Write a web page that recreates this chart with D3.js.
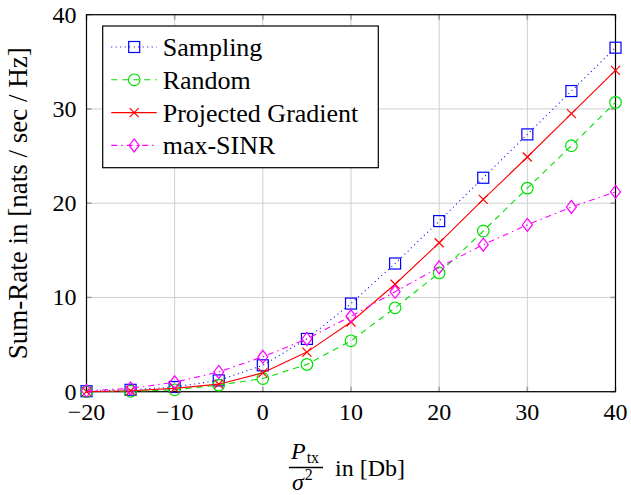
<!DOCTYPE html>
<html>
<head>
<meta charset="utf-8">
<script src="https://d3js.org/d3.v7.min.js"></script>
<style>
  body { margin: 0; background: #fff; }
  svg { display: block; }
  svg text { font-family: "Times New Roman", "Liberation Serif", Tinos, serif !important; }
</style>
</head>
<body>
<svg width="631" height="495"></svg>
<script>
const width = 631;
const height = 495;

// data
const snr = [-20, -15, -10, -5, 0, 5, 10, 15, 20, 25, 30, 35, 40];
const sampling = [0.05, 0.2, 0.5, 1.2, 2.8, 5.6, 9.35, 13.6, 18.1, 22.7, 27.3, 31.9, 36.5];
const random = [0.0, 0.05, 0.2, 0.7, 1.4, 2.9, 5.4, 8.9, 12.6, 17.05, 21.6, 26.1, 30.7];
const projGrad = [0.0, 0.1, 0.35, 0.8, 2.0, 4.2, 7.4, 11.4, 15.8, 20.4, 24.9, 29.5, 34.1];
const maxSinr = [0.1, 0.35, 1.0, 2.1, 3.7, 5.6, 8.0, 10.6, 13.2, 15.6, 17.7, 19.6, 21.2];
const xTicks = [-20, -10, 0, 10, 20, 30, 40];
const yTicks = [0, 10, 20, 30, 40];

const series = [
    { name: "Sampling", values: sampling, color: "#0000ff", dash: "1,3.5", marker: "square" },
    { name: "Random", values: random, color: "#00e000", dash: "6,5", marker: "circle" },
    { name: "Projected Gradient", values: projGrad, color: "#ff0000", dash: null, marker: "cross" },
    { name: "max-SINR", values: maxSinr, color: "#ff00ff", dash: "6,4,1.5,4", marker: "diamond" }
];

const margin = { left: 86.5, top: 14.7, right: 15.5, bottom: 103.3 };
const w = width - margin.left - margin.right;
const h = height - margin.top - margin.bottom;

const svg = d3.select("svg");

// scales in page pixels
const x = d3.scaleLinear().domain([-20, 40]).range([margin.left, margin.left + w]);
const y = d3.scaleLinear().domain([0, 40]).range([margin.top + h, margin.top]);
const fmt = x.tickFormat();  // proper minus sign

// helper for texts (font comes from the stylesheet)
function label(px, py, str, size) {
    return svg.append("text")
        .attr("x", px).attr("y", py)
        .attr("font-size", size)
        .attr("fill", "#000")
        .text(str);
}

// grid
svg.append("g").selectAll("line").data(xTicks).join("line")
    .attr("x1", d => x(d)).attr("x2", d => x(d))
    .attr("y1", y(40)).attr("y2", y(0))
    .attr("stroke", "#cfcfcf").attr("stroke-width", 1);
svg.append("g").selectAll("line").data(yTicks).join("line")
    .attr("y1", d => y(d)).attr("y2", d => y(d))
    .attr("x1", x(-20)).attr("x2", x(40))
    .attr("stroke", "#cfcfcf").attr("stroke-width", 1);

// inner tick marks on all four sides
const tickLen = 5;
const tickG = svg.append("g").attr("stroke", "#a0a0a0").attr("stroke-width", 1.6);
xTicks.forEach(t => {
    tickG.append("line").attr("x1", x(t)).attr("x2", x(t)).attr("y1", y(0)).attr("y2", y(0) - tickLen);
    tickG.append("line").attr("x1", x(t)).attr("x2", x(t)).attr("y1", y(40)).attr("y2", y(40) + tickLen);
});
yTicks.forEach(t => {
    tickG.append("line").attr("y1", y(t)).attr("y2", y(t)).attr("x1", x(-20)).attr("x2", x(-20) + tickLen);
    tickG.append("line").attr("y1", y(t)).attr("y2", y(t)).attr("x1", x(40)).attr("x2", x(40) - tickLen);
});

// tick labels
xTicks.forEach(t => {
    label(x(t), y(0) + 28, fmt(t), 24).attr("text-anchor", "middle");
});
yTicks.forEach(t => {
    label(x(-20) - 10, y(t) + 8, fmt(t), 24).attr("text-anchor", "end");
});

// frame
svg.append("rect")
    .attr("x", x(-20)).attr("y", y(40)).attr("width", w).attr("height", h)
    .attr("fill", "none").attr("stroke", "#000").attr("stroke-width", 1.2);

function drawMarker(px, py, type, color) {
    const m = svg.append("g").attr("transform", `translate(${px},${py})`)
        .attr("fill", "none").attr("stroke", color).attr("stroke-width", 1.2);
    if (type === "square") {
        m.append("rect").attr("x", -5.5).attr("y", -5.5).attr("width", 11).attr("height", 11);
    } else if (type === "circle") {
        m.append("circle").attr("r", 5.8);
    } else if (type === "cross") {
        m.append("path").attr("d", "M-4.5,-4.5L4.5,4.5M-4.5,4.5L4.5,-4.5");
    } else if (type === "diamond") {
        m.append("path").attr("d", "M0,-6.5L5,0L0,6.5L-5,0Z");
    }
}

const line = d3.line()
    .x((d, i) => x(snr[i]))
    .y(d => y(d));

series.forEach(s => {
    svg.append("path")
        .attr("d", line(s.values))
        .attr("fill", "none")
        .attr("stroke", s.color)
        .attr("stroke-width", 1.1)
        .attr("stroke-dasharray", s.dash);
    s.values.forEach((v, i) => drawMarker(x(snr[i]), y(v), s.marker, s.color));
});

// legend
const lx = 102.7, ly = 26;
svg.append("rect").attr("x", lx).attr("y", ly).attr("width", 275.6).attr("height", 141.7)
    .attr("fill", "#fff").attr("stroke", "#000").attr("stroke-width", 1.2);
series.forEach((s, i) => {
    const ry = ly + 21 + i * 32.8;
    svg.append("line").attr("x1", lx + 8.5).attr("x2", lx + 54).attr("y1", ry).attr("y2", ry)
        .attr("stroke", s.color).attr("stroke-width", 1.1)
        .attr("stroke-dasharray", s.dash);
    drawMarker(lx + 31.5, ry, s.marker, s.color);
    label(lx + 60, ry + 9, s.name, 26);
});

// y axis label
label(0, 0, "Sum-Rate in [nats / sec / Hz]", 27)
    .attr("transform", `translate(27,${margin.top + h / 2}) rotate(-90)`)
    .attr("text-anchor", "middle");

// x axis label: P_tx / sigma^2 in [Db]
const num = label(291, 459, "", 24);
num.append("tspan").attr("font-style", "italic").text("P");
num.append("tspan").attr("font-size", 16).attr("dy", 4).attr("dx", 1).text("tx");
svg.append("line").attr("x1", 289).attr("x2", 323).attr("y1", 467.5).attr("y2", 467.5)
    .attr("stroke", "#000").attr("stroke-width", 1.5);
const den = label(292, 490, "", 24);
den.append("tspan").attr("font-style", "italic").text("σ");
den.append("tspan").attr("font-size", 16).attr("dy", -10).attr("dx", 1).text("2");
label(335, 476, "in [Db]", 24);
</script>
</body>
</html>
